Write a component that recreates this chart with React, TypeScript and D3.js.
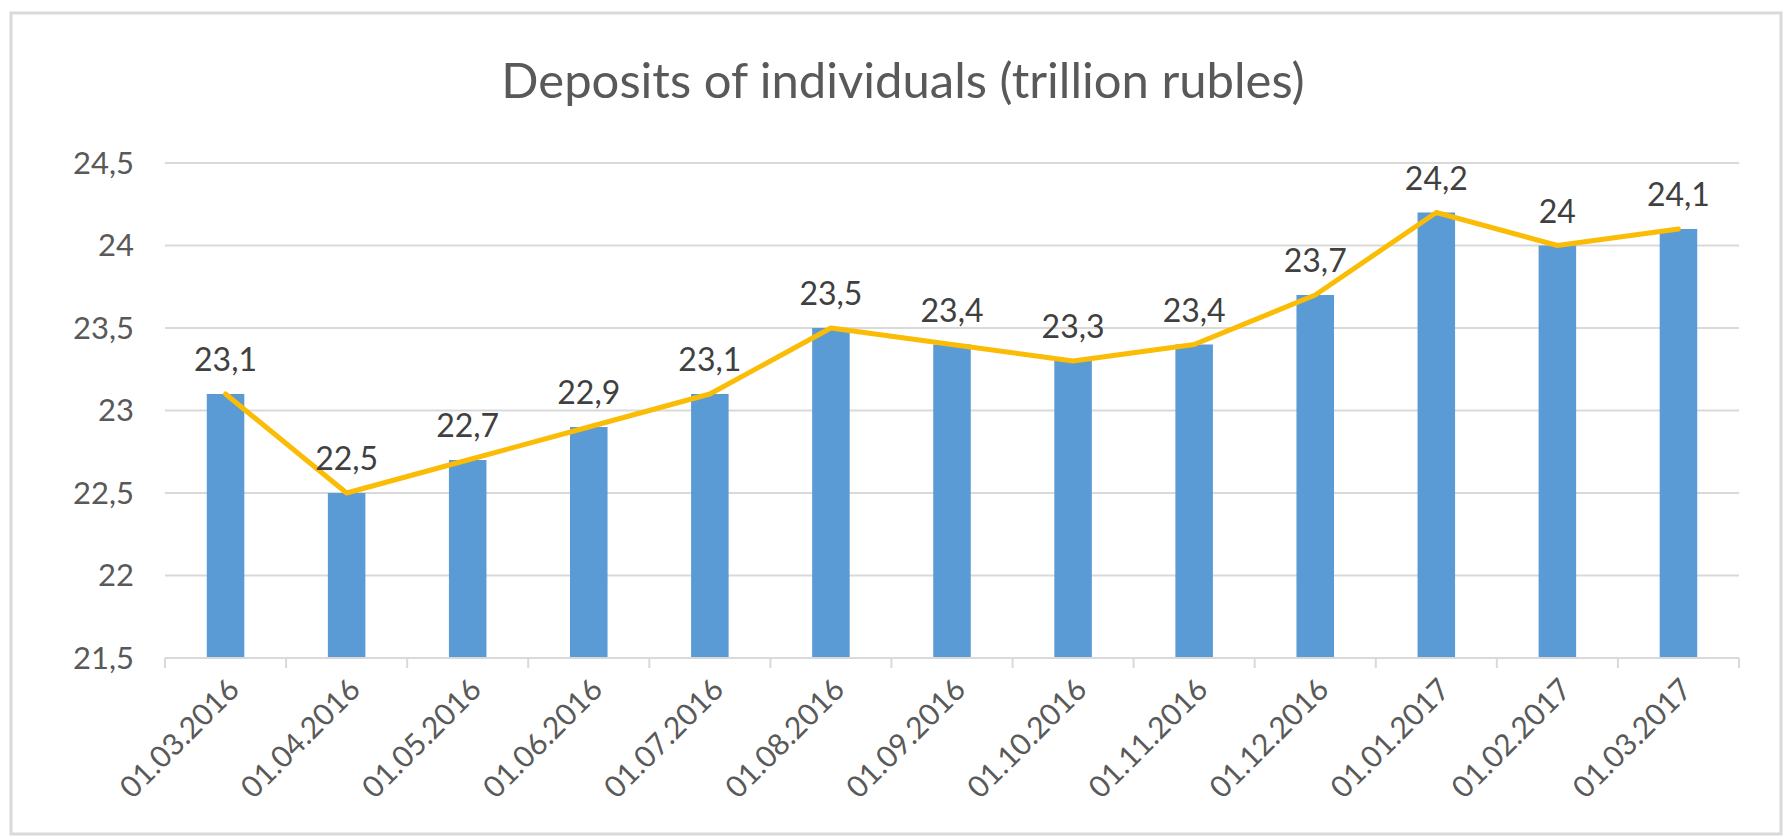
import React, { useEffect } from "react";
import * as d3 from "d3";

const categories = [
  "01.03.2016", "01.04.2016", "01.05.2016", "01.06.2016", "01.07.2016",
  "01.08.2016", "01.09.2016", "01.10.2016", "01.11.2016", "01.12.2016",
  "01.01.2017", "01.02.2017", "01.03.2017",
];
const values = [23.1, 22.5, 22.7, 22.9, 23.1, 23.5, 23.4, 23.3, 23.4, 23.7, 24.2, 24.0, 24.1];
const yTicks = [21.5, 22, 22.5, 23, 23.5, 24, 24.5];
const title = "Deposits of individuals (trillion rubles)";

const W = 1786;
const H = 836;
const FONT = "Lato, 'Open Sans', sans-serif";
const fmt = (v: number) => String(v).replace(".", ",");

export default function App() {
  useEffect(() => {
    document.body.style.margin = "0";
  }, []);

  const x = d3.scaleBand<string>().domain(categories).range([165, 1739]).padding(0);
  const y = d3.scaleLinear().domain([21.5, 24.5]).range([658, 163]);
  const step = x.step();
  const barW = step * 0.31;
  const cx = (c: string) => (x(c) as number) + step / 2;

  const line = d3
    .line<number>()
    .x((_, i) => cx(categories[i]))
    .y((v) => y(v));

  return (
    <svg width={W} height={H} style={{ display: "block", background: "#fff" }}>
      <rect x={11} y={13} width={1770} height={821} fill="#fff" stroke="#d9d9d9" strokeWidth={3} />
      <text x={903} y={98} textAnchor="middle" fontFamily={FONT} fontSize={49} fill="#595959">
        {title}
      </text>
      {yTicks.map((t) => (
        <g key={t}>
          {t !== 21.5 && (
            <line x1={165} x2={1739} y1={y(t)} y2={y(t)} stroke="#d9d9d9" strokeWidth={2} />
          )}
          <text x={134} y={y(t)} dy="0.35em" textAnchor="end" fontFamily={FONT} fontSize={31} fill="#595959">
            {fmt(t)}
          </text>
        </g>
      ))}
      {categories.map((c, i) => (
        <rect key={c} x={cx(c) - barW / 2} y={y(values[i])} width={barW} height={y(21.5) - y(values[i])} fill="#5b9bd5" />
      ))}
      <line x1={165} x2={1739} y1={y(21.5)} y2={y(21.5)} stroke="#d9d9d9" strokeWidth={2} />
      {[...categories.map((c) => x(c) as number), 1739].map((tx, i) => (
        <line key={i} x1={tx} x2={tx} y1={y(21.5)} y2={y(21.5) + 10} stroke="#d9d9d9" strokeWidth={2} />
      ))}
      <path d={line(values) || ""} fill="none" stroke="#fbbc05" strokeWidth={5} strokeLinejoin="round" strokeLinecap="round" />
      {categories.map((c, i) => (
        <text key={c} x={cx(c)} y={y(values[i]) - 34} dy="0.35em" textAnchor="middle" fontFamily={FONT} fontSize={32} fill="#404040">
          {fmt(values[i])}
        </text>
      ))}
      {categories.map((c) => (
        <text
          key={c}
          transform={`translate(${cx(c) + 8},${y(21.5) + 26}) rotate(-45)`}
          textAnchor="end"
          dy="0.35em"
          fontFamily={FONT}
          fontSize={30}
          fill="#595959"
        >
          {c}
        </text>
      ))}
    </svg>
  );
}
